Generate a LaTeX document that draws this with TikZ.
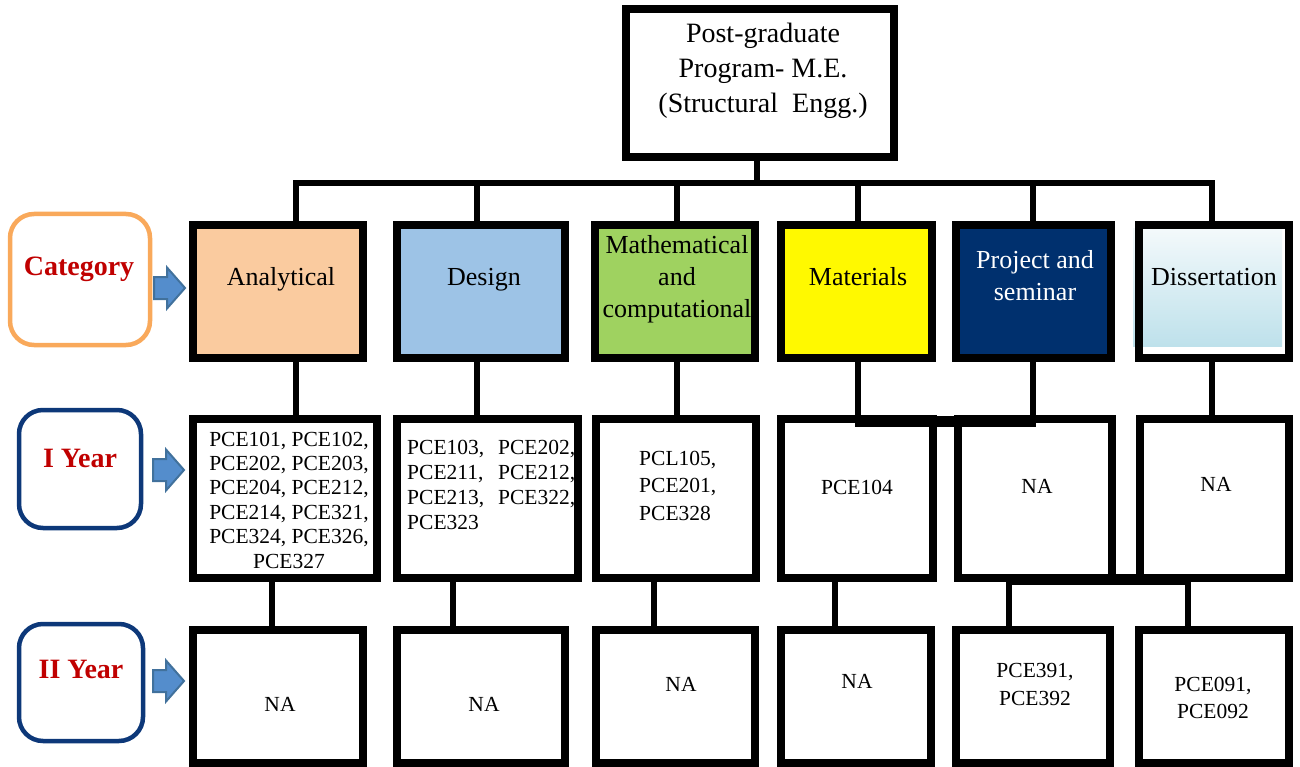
\documentclass[tikz,border=0pt]{standalone}
\usepackage{fontspec}
\setmainfont{Liberation Serif}
\definecolor{cpeach}{HTML}{FACB9F}
\definecolor{cdesign}{HTML}{9DC3E6}
\definecolor{cgreen}{HTML}{9FD260}
\definecolor{cyellow}{HTML}{FFF900}
\definecolor{cnavy}{HTML}{00306E}
\definecolor{cdissA}{HTML}{F3F9FB}
\definecolor{cdissB}{HTML}{BEE1EB}
\definecolor{corange}{HTML}{F9A95B}
\definecolor{cside}{HTML}{0D3879}
\definecolor{cred}{HTML}{C00000}
\definecolor{carrowfill}{HTML}{548DCC}
\definecolor{carrowline}{HTML}{41719C}
\begin{document}
\begin{tikzpicture}[x=1pt,y=-1pt,
  box/.style={draw=black, line width=8pt, inner sep=0pt, outer sep=0pt},
  wire/.style={line width=6.5pt},
  bar/.style={line width=11pt},
  lbl/.style={font=\fontsize{26}{32}\selectfont, align=center, inner sep=0pt, anchor=base},
  code/.style={font=\fontsize{21.5}{24.4}\selectfont, align=center, inner sep=0pt, anchor=base},
  side/.style={draw, rounded corners=24pt, line width=4.5pt, fill=white, inner sep=0pt},
  sidetxt/.style={font=\fontsize{28}{30}\selectfont\bfseries, text=cred, inner sep=0pt, anchor=base},
  barrow/.style={fill=carrowfill, draw=carrowline, line width=2pt, line join=miter}]
\useasboundingbox (0,0) rectangle (1300,767);

% ---- top node
\node[box, minimum width=268pt, minimum height=148pt] (top) at (760,83) {};
\node[lbl, font=\fontsize{28}{35}\selectfont] (ttop) at (763,113) {Post-graduate\\Program- M.E.\\(Structural\ \ Engg.)};

% ---- left labels
\node[side, draw=corange, minimum width=140pt, minimum height=131pt] (scat) at (80,279.5) {};
\node[sidetxt] (tcat) at (79,276) {Category};
\node[side, draw=cside, minimum width=122pt, minimum height=118pt] (sy1) at (80,469) {};
\node[sidetxt] (ty1) at (80,467) {I Year};
\node[side, draw=cside, minimum width=124pt, minimum height=117pt] (sy2) at (81,682.5) {};
\node[sidetxt] (ty2) at (81,678) {II Year};

% block arrows
\foreach \ax/\ay in {154/288, 153/470, 153/681}{
  \draw[barrow] (\ax,\ay-11) -- ++(13,0) -- ++(0,-9.5) -- (\ax+31,\ay) -- (\ax+13,\ay+20.5) -- ++(0,-9.5) -- (\ax,\ay+11) -- cycle;
}

% ---- row 1 (categories)
\shade[top color=cdissA, bottom color=cdissB] (1133,229) rectangle (1282,346);
\node[box, fill=cpeach,  minimum width=170pt, minimum height=133pt] (an1) at (278,291.5) {};
\node[box, fill=cdesign, minimum width=168pt, minimum height=133pt] (de1) at (481,291.5) {};
\node[box, fill=cgreen,  minimum width=160pt, minimum height=133pt] (ma1) at (675,291.5) {};
\node[box, fill=cyellow, minimum width=151pt, minimum height=133pt] (mt1) at (856.5,291.5) {};
\node[box, fill=cnavy,   minimum width=155pt, minimum height=133pt] (pr1) at (1033.5,291.5) {};
\node[box,               minimum width=150pt, minimum height=133pt] (di1) at (1214,291.5) {};

\node[lbl] (tan1) at (281,285) {Analytical};
\node[lbl] (tde1) at (484,285) {Design};
\node[lbl] (tma1) at (677,317) {Mathematical\\and\\computational};
\node[lbl] (tmt1) at (858,285) {Materials};
\node[lbl, text=white] (tpr1) at (1035,300) {Project and\\seminar};
\node[lbl] (tdi1) at (1214,285) {Dissertation};

% ---- row 2 (I year)
\node[box, minimum width=184pt, minimum height=159pt] (an2) at (285,498.5) {};
\node[box, minimum width=181pt, minimum height=159pt] (de2) at (487.5,498.5) {};
\node[box, minimum width=160pt, minimum height=159pt] (ma2) at (676,498.5) {};
\node[box, minimum width=152pt, minimum height=159pt] (mt2) at (857,498.5) {};
\node[box, minimum width=154pt, minimum height=159pt] (pr2) at (1035,498.5) {};
\node[box, minimum width=149pt, minimum height=159pt] (di2) at (1214.5,498.5) {};

\node[code] (tan2) at (289,568) {PCE101, PCE102,\\PCE202, PCE203,\\PCE204, PCE212,\\PCE214, PCE321,\\PCE324, PCE326,\\PCE327};
\node[code, font=\fontsize{21.5}{25.3}\selectfont, text width=168pt, align=left, anchor=base west] (tde2) at (407,454) {PCE103,\hfill PCE202,\\PCE211,\hfill PCE212,\\PCE213,\hfill PCE322,\\PCE323};
\node[code, font=\fontsize{21.5}{27.5}\selectfont, align=left, anchor=base west] (tma2) at (639,520) {PCL105,\\PCE201,\\PCE328};
\node[code] (tmt2) at (857,494) {PCE104};
\node[code] (tpr2) at (1037,493) {NA};
\node[code] (tdi2) at (1216,491) {NA};

% ---- row 3 (II year)
\node[box, minimum width=170pt, minimum height=133pt] (an3) at (278,696.5) {};
\node[box, minimum width=168pt, minimum height=133pt] (de3) at (481,696.5) {};
\node[box, minimum width=159pt, minimum height=133pt] (ma3) at (675.5,696.5) {};
\node[box, minimum width=150pt, minimum height=133pt] (mt3) at (856,696.5) {};
\node[box, minimum width=154pt, minimum height=133pt] (pr3) at (1033,696.5) {};
\node[box, minimum width=150pt, minimum height=133pt] (di3) at (1214,696.5) {};

\node[code] (tan3) at (280,711) {NA};
\node[code] (tde3) at (484,711) {NA};
\node[code] (tma3) at (681,691) {NA};
\node[code] (tmt3) at (857,688) {NA};
\node[code, font=\fontsize{21.5}{28}\selectfont] (tpr3) at (1035,705) {PCE391,\\PCE392};
\node[code, font=\fontsize{21.5}{27}\selectfont] (tdi3) at (1213,718) {PCE091,\\PCE092};

% ---- connectors
\coordinate (t0) at (757,183);
\coordinate (s1) at (296,183);
\coordinate (s2) at (477,183);
\coordinate (s3) at (677,183);
\coordinate (s4) at (858,183);
\coordinate (s5) at (1033,183);
\coordinate (s6) at (1212,183);
\draw[wire] (top.south -| t0) -- (t0);
\draw[wire] ([xshift=-3pt]s1) -- ([xshift=3pt]s6);
\draw[wire] (s1) -- (s1 |- an1.north);
\draw[wire] (s2) -- (s2 |- de1.north);
\draw[wire] (s3) -- (s3 |- ma1.north);
\draw[wire] (s4) -- (s4 |- mt1.north);
\draw[wire] (s5) -- (s5 |- pr1.north);
\draw[wire] (s6) -- (s6 |- di1.north);

\draw[wire] (an1.south -| s1) -- (an2.north -| s1);
\draw[wire] (de1.south -| s2) -- (de2.north -| s2);
\draw[wire] (ma1.south -| s3) -- (ma2.north -| s3);
\draw[wire] (mt1.south -| s4) -- (mt2.north -| s4);
\draw[wire] (pr1.south -| s5) -- (pr2.north -| s5);
\draw[wire] (di1.south -| s6) -- (di2.north -| s6);
\coordinate (m1) at (855,421.5);
\coordinate (m2) at (1036,421.5);
\draw[bar] (m1) -- (m2);

\coordinate (q1) at (272,600);
\coordinate (q2) at (453,600);
\coordinate (q3) at (654,600);
\coordinate (q4) at (835,600);
\draw[wire] (an2.south -| q1) -- (an3.north -| q1);
\draw[wire] (de2.south -| q2) -- (de3.north -| q2);
\draw[wire] (ma2.south -| q3) -- (ma3.north -| q3);
\draw[wire] (mt2.south -| q4) -- (mt3.north -| q4);
\coordinate (f1) at (1009,579);
\coordinate (f2) at (1188,579);
\draw[bar] ([xshift=-3pt]f1) -- ([xshift=3pt]f2);
\draw[wire] (f1) -- (f1 |- pr3.north);
\draw[wire] (f2) -- (f2 |- di3.north);
\end{tikzpicture}
\end{document}
